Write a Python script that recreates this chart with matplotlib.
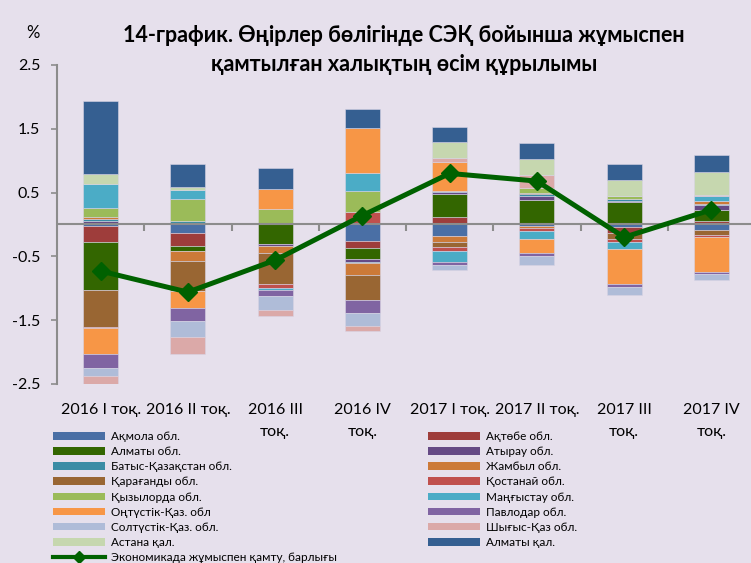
import numpy as np
import matplotlib.pyplot as plt
from matplotlib.patches import Patch
from matplotlib.lines import Line2D

plt.rcParams['font.family'] = ['Lato', 'DejaVu Sans']

quarters = ['2016 I тоқ.', '2016 II тоқ.', '2016 III\nтоқ.', '2016 IV\nтоқ.',
            '2017 I тоқ.', '2017 II тоқ.', '2017 III\nтоқ.', '2017 IV\nтоқ.']

# contributions by region, percentage points
akmola = [-0.02, -0.14, 0.03, -0.26, -0.18, -0.02, -0.04, -0.09]
aktobe = [-0.26, -0.20, 0.00, -0.11, 0.11, 0.03, -0.09, 0.06]
almaty_obl = [-0.75, -0.08, -0.31, -0.17, 0.36, 0.36, 0.36, 0.17]
atyrau = [0.06, 0.03, -0.02, -0.05, 0.04, 0.05, 0.01, 0.08]
batys = [0.02, 0.03, 0.00, -0.02, 0.02, 0.03, 0.03, 0.01]
zhambyl = [0.03, -0.16, -0.12, -0.18, -0.10, -0.04, 0.00, 0.05]
karagandy = [-0.57, -0.46, -0.49, -0.39, -0.07, 0.02, -0.10, -0.07]
kostanay = [-0.02, -0.01, -0.05, 0.19, -0.06, -0.04, -0.05, -0.03]
kyzylorda = [0.15, 0.34, 0.21, 0.33, 0.00, 0.08, 0.05, 0.00]
mangystau = [0.37, 0.14, -0.04, 0.28, -0.18, -0.13, -0.10, 0.07]
ontustik = [-0.41, -0.26, 0.32, 0.71, 0.45, -0.21, -0.56, -0.55]
pavlodar = [-0.22, -0.21, -0.09, -0.21, -0.05, -0.05, -0.04, -0.04]
soltustik = [-0.13, -0.25, -0.22, -0.20, -0.07, -0.14, -0.13, -0.09]
shygys = [-0.15, -0.26, -0.10, -0.08, 0.06, 0.21, 0.00, 0.02]
astana = [0.16, 0.05, 0.00, 0.00, 0.25, 0.25, 0.25, 0.36]
almaty_city = [1.15, 0.35, 0.32, 0.30, 0.23, 0.24, 0.25, 0.27]

total = [-0.73, -1.06, -0.56, 0.14, 0.80, 0.68, -0.20, 0.23]

regions = [
    ('Ақмола обл.', akmola, '#4A6FA5'),
    ('Ақтөбе обл.', aktobe, '#9E3D3B'),
    ('Алматы обл.', almaty_obl, '#336600'),
    ('Атырау обл.', atyrau, '#654A85'),
    ('Батыс-Қазақстан обл.', batys, '#3A8CA5'),
    ('Жамбыл обл.', zhambyl, '#CC7A38'),
    ('Қарағанды обл.', karagandy, '#996633'),
    ('Қостанай обл.', kostanay, '#C0504D'),
    ('Қызылорда обл.', kyzylorda, '#9BBB59'),
    ('Маңғыстау обл.', mangystau, '#4BACC6'),
    ('Оңтүстік-Қаз. обл', ontustik, '#F79646'),
    ('Павлодар обл.', pavlodar, '#8064A2'),
    ('Солтүстік-Қаз. обл.', soltustik, '#AFBCD8'),
    ('Шығыс-Қаз обл.', shygys, '#DBA9A8'),
    ('Астана қал.', astana, '#C6D7AF'),
    ('Алматы қал.', almaty_city, '#355F91'),
]
line_label = 'Экономикада жұмыспен қамту, барлығы'

bg = '#E6E0EC'
green = '#006100'
grey = '#8C8C8C'

fig = plt.figure(figsize=(7.51, 5.63), dpi=100, facecolor=bg)
ax = fig.add_axes([57 / 751, 0.318, 698 / 751, 0.5666], facecolor=bg)

x = np.arange(len(quarters))
pos = np.zeros(len(x))
neg = np.zeros(len(x))
handles = {}
for name, vals, color in regions:
    v = np.array(vals)
    bottom = np.where(v >= 0, pos, neg)
    ax.bar(x, v, 0.4, bottom=bottom, color=color, edgecolor='#D8D4E4',
           linewidth=0.4, zorder=2)
    pos += np.clip(v, 0, None)
    neg += np.clip(v, None, 0)
    handles[name] = Patch(facecolor=color, edgecolor='none')

ax.axhline(0, color=grey, lw=1.5, zorder=3)
ax.plot(x, total, color=green, lw=3.6, marker='D', ms=9, zorder=5)

ax.set_xlim(-0.5, 7.5)
ax.set_ylim(-2.5, 2.5)
ax.set_yticks([2.5, 1.5, 0.5, -0.5, -1.5, -2.5])
ax.set_yticklabels(['2.5', '1.5', '0.5', '-0.5', '-1.5', '-2.5'])
ax.tick_params(axis='y', length=4, width=1.2, color=grey, pad=8, labelsize=11.5)
ax.set_xticks(x)
ax.set_xticklabels(quarters, linespacing=1.65)
ax.tick_params(axis='x', length=0, pad=14, labelsize=11.5)
for s in ['top', 'right', 'bottom']:
    ax.spines[s].set_visible(False)
ax.spines['left'].set_color(grey)
ax.spines['left'].set_linewidth(1.5)

sec = ax.secondary_xaxis(0, transform=ax.transData)
sec.set_xticks(np.arange(0.5, 7.5, 1))
sec.set_xticklabels([])
sec.tick_params(length=5, width=1.5, color=grey)
sec.spines['bottom'].set_visible(False)

fig.text(404 / 751, 1 - 50 / 563,
         '14-график. Өңірлер бөлігінде СЭҚ бойынша жұмыспен\nқамтылған халықтың өсім құрылымы',
         ha='center', va='center', fontsize=15.5, fontweight='bold', linespacing=1.5)
fig.text(33 / 751, 1 - 33 / 563, '%', ha='center', va='center', fontsize=12)

col1 = ['Ақмола обл.', 'Алматы обл.', 'Батыс-Қазақстан обл.', 'Қарағанды обл.',
        'Қызылорда обл.', 'Оңтүстік-Қаз. обл', 'Солтүстік-Қаз. обл.', 'Астана қал.']
col2 = ['Ақтөбе обл.', 'Атырау обл.', 'Жамбыл обл.', 'Қостанай обл.',
        'Маңғыстау обл.', 'Павлодар обл.', 'Шығыс-Қаз обл.', 'Алматы қал.']
line_handle = Line2D([], [], color=green, lw=3, marker='D', ms=6)

leg_kw = dict(frameon=False, fontsize=8.5, handlelength=4.4, handleheight=0.6,
              handletextpad=0.5, labelspacing=0.35, borderpad=0, borderaxespad=0,
              loc='upper left')
fig.legend([handles[n] for n in col1] + [line_handle], col1 + [line_label],
           bbox_to_anchor=(53 / 751, 1 - 431 / 563), **leg_kw)
fig.legend([handles[n] for n in col2], col2,
           bbox_to_anchor=(428 / 751, 1 - 431 / 563), **leg_kw)

fig.savefig('out.png', dpi=100, facecolor=bg)
